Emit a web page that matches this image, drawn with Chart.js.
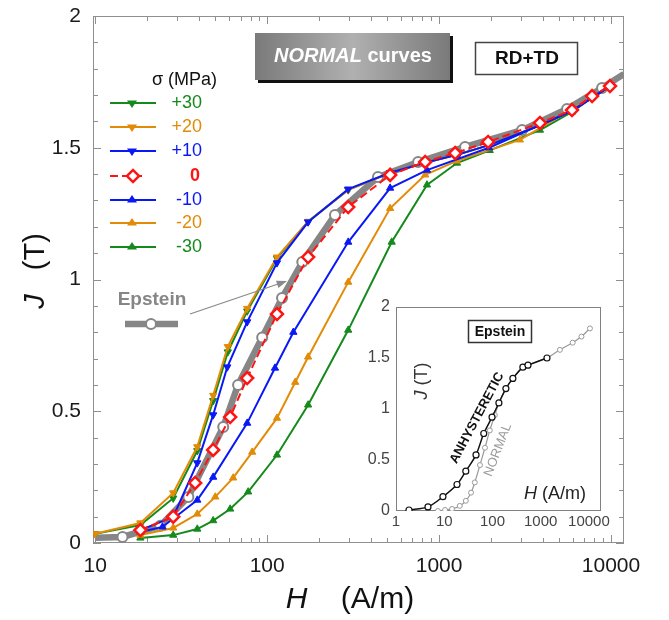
<!DOCTYPE html>
<html><head><meta charset="utf-8">
<script src="https://cdn.jsdelivr.net/npm/chart.js@4"></script>
<style>
html,body{margin:0;padding:0;background:#fff;}
#wrap{position:relative;width:669px;height:620px;overflow:hidden;}
#main{position:absolute;left:0;top:0;}
#inset{position:absolute;left:355px;top:295px;}
</style></head><body>
<div id="wrap"><canvas id="main" width="669" height="620"></canvas><canvas id="inset" width="300" height="240"></canvas></div>
<script>
// ---------- tick labels ----------
const X_TICKS = [10, 100, 1000, 10000];
const Y_TICKS = [0, 0.5, 1, 1.5, 2];
const INSET_X_TICKS = [1, 10, 100, 1000, 10000];
const INSET_Y_TICKS = [0, 0.5, 1, 1.5, 2];
const SIGMA_LABELS = ['+30', '+20', '+10', '0', '-10', '-20', '-30'];

// ---------- main chart series (H in A/m, J in T) ----------
const H_EP = [10, 14.4, 23.9, 34.8, 55.5, 67.7, 93.5, 122, 160, 248, 441, 755, 1416, 3040, 5550, 8870, 11900];
const J_EP = [0.02, 0.023, 0.065, 0.175, 0.44, 0.60, 0.78, 0.93, 1.066, 1.245, 1.389, 1.446, 1.503, 1.567, 1.647, 1.727, 1.78];

const H_P30 = [10, 18.3, 28.4, 39.2, 48.5, 59, 76.5, 114, 173, 296, 519, 850, 1300, 1950, 3860, 5930, 7760, 9860];
const J_P30 = [0.035, 0.068, 0.17, 0.35, 0.54, 0.725, 0.88, 1.08, 1.22, 1.34, 1.405, 1.445, 1.475, 1.51, 1.585, 1.64, 1.69, 1.735];

const H_P20 = [10, 18.3, 28.4, 39.2, 48.5, 59, 76.5, 114, 173, 296, 519, 850, 1300, 1950, 3860, 5930, 7760, 9860];
const J_P20 = [0.035, 0.076, 0.19, 0.365, 0.56, 0.745, 0.89, 1.085, 1.22, 1.34, 1.405, 1.445, 1.475, 1.51, 1.585, 1.64, 1.69, 1.735];

const H_P10 = [18.3, 28.4, 39.2, 48.5, 58.6, 76.5, 114, 173, 296, 519, 850, 1300, 1950, 3860, 5930, 7760, 9860];
const J_P10 = [0.049, 0.099, 0.304, 0.486, 0.668, 0.839, 1.063, 1.218, 1.343, 1.405, 1.445, 1.475, 1.51, 1.585, 1.64, 1.69, 1.735];

const H_0 = [18.3, 28.4, 38.1, 48.5, 60.9, 76.5, 114, 173, 296, 519, 830, 1240, 1928, 3860, 5930, 7760, 9860];
const J_0 = [0.049, 0.10, 0.228, 0.353, 0.478, 0.626, 0.869, 1.085, 1.275, 1.397, 1.446, 1.48, 1.522, 1.594, 1.643, 1.696, 1.734];

const H_M10 = [18.3, 24.6, 39.2, 48.5, 76.5, 111, 142, 296, 519, 850, 1950, 3860, 5930, 9860];
const J_M10 = [0.042, 0.061, 0.163, 0.25, 0.455, 0.664, 0.80, 1.142, 1.347, 1.415, 1.50, 1.586, 1.64, 1.733];

const H_M20 = [18.3, 28.4, 39.2, 49.9, 63.4, 81.8, 114, 145.6, 173, 296, 519, 830, 1270, 2950, 9860];
const J_M20 = [0.03, 0.057, 0.11, 0.175, 0.247, 0.345, 0.474, 0.61, 0.706, 0.99, 1.27, 1.397, 1.45, 1.53, 1.73];

const H_M30 = [18.3, 28.4, 39.2, 48.5, 60.9, 77.5, 114, 173, 296, 530, 850, 1270, 1970, 3860, 5930, 7760, 9860];
const J_M30 = [0.019, 0.03, 0.053, 0.085, 0.129, 0.194, 0.334, 0.524, 0.808, 1.142, 1.359, 1.442, 1.49, 1.567, 1.636, 1.69, 1.738];

// ---------- inset series ----------
const H_AN = [1.86, 4.6, 9.4, 18.4, 28, 45.6, 66, 98, 136, 190, 265, 427, 545, 1350];
const J_AN = [0.01, 0.04, 0.14, 0.26, 0.39, 0.55, 0.76, 0.92, 1.06, 1.20, 1.30, 1.41, 1.43, 1.50];
const H_NI = [7.4, 10.4, 14.5, 21, 28, 36, 43, 55, 70, 88, 112, 136, 190, 265, 427, 545, 1350, 2500, 4600, 7000, 10500];
const J_NI = [0, 0.01, 0.02, 0.05, 0.1, 0.18, 0.28, 0.45, 0.62, 0.79, 0.94, 1.06, 1.2, 1.30, 1.41, 1.43, 1.50, 1.58, 1.65, 1.71, 1.79];

const GREEN = '#158a1c', ORANGE = '#e38b06', BLUE = '#0a18f5', RED = '#ff1414', GREY = '#868686';
const FONT = "'Liberation Sans', Arial, Helvetica, sans-serif";

function pts(H, J) { return H.map((h, i) => ({ x: h, y: J[i] })); }

function triDs(H, J, color, down, order) {
  return {
    data: pts(H, J), borderColor: color, backgroundColor: color, borderWidth: 2,
    pointStyle: 'triangle', rotation: down ? 180 : 0, pointRadius: 4.2,
    pointBorderWidth: 1, pointBackgroundColor: color, pointBorderColor: color,
    tension: 0, order: order
  };
}

const datasets = [
  {
    data: pts(H_EP, J_EP), borderColor: GREY, borderWidth: 6.5, tension: 0,
    pointStyle: 'circle', pointRadius: H_EP.map((h, i) => (i === 0 || i === H_EP.length - 1) ? 0 : 5),
    pointBackgroundColor: '#ffffff', pointBorderColor: GREY, pointBorderWidth: 2, order: 10
  },
  triDs(H_M30, J_M30, GREEN, false, 7),
  triDs(H_M20, J_M20, ORANGE, false, 6),
  triDs(H_P30, J_P30, GREEN, true, 5),
  triDs(H_P20, J_P20, ORANGE, true, 4),
  triDs(H_M10, J_M10, BLUE, false, 3),
  triDs(H_P10, J_P10, BLUE, true, 2),
  {
    data: pts(H_0, J_0), borderColor: RED, borderWidth: 2, borderDash: [8, 4], tension: 0,
    pointStyle: 'rectRot', pointRadius: 6, pointBackgroundColor: '#ffffff',
    pointBorderColor: RED, pointBorderWidth: 2.5, order: 0
  }
];

function line(ctx, x1, y1, x2, y2) { ctx.beginPath(); ctx.moveTo(x1, y1); ctx.lineTo(x2, y2); ctx.stroke(); }

function drawTri(ctx, x, y, r, down, color) {
  ctx.save(); ctx.fillStyle = color; ctx.beginPath();
  const h = r * 1.5;
  if (down) { ctx.moveTo(x - r, y - h / 3); ctx.lineTo(x + r, y - h / 3); ctx.lineTo(x, y + 2 * h / 3); }
  else { ctx.moveTo(x - r, y + h / 3); ctx.lineTo(x + r, y + h / 3); ctx.lineTo(x, y - 2 * h / 3); }
  ctx.closePath(); ctx.fill(); ctx.restore();
}

function mixedText(ctx, parts, x, y, align) {
  let total = 0;
  parts.forEach(p => { ctx.font = p.f; p.w = ctx.measureText(p.t).width; total += p.w; });
  let cx = align === 'center' ? x - total / 2 : (align === 'right' ? x - total : x);
  ctx.textAlign = 'left';
  parts.forEach(p => { ctx.font = p.f; ctx.fillText(p.t, cx, y); cx += p.w; });
}

const mainDecor = {
  id: 'mainDecor',
  beforeDatasetsDraw(chart) {
    const { ctx, chartArea: a, scales: { x, y } } = chart;
    ctx.save();
    ctx.strokeStyle = '#8f8f8f'; ctx.lineWidth = 1;
    for (let v = 0; v <= 20; v++) {
      const py = Math.round(y.getPixelForValue(v / 10)) + 0.5;
      const len = v % 5 === 0 ? 8 : 5;
      line(ctx, a.left, py, a.left + len, py);
      line(ctx, a.right, py, a.right - len, py);
    }
    for (let d = 1; d <= 4; d++) {
      for (let k = 1; k < 10; k++) {
        const val = k * Math.pow(10, d);
        if (val < x.min || val > x.max) continue;
        const px = Math.round(x.getPixelForValue(val)) + 0.5;
        const len = k === 1 ? 8 : 5;
        line(ctx, px, a.bottom, px, a.bottom - len);
        line(ctx, px, a.top, px, a.top + len);
      }
    }
    ctx.strokeRect(a.left + 0.5, a.top + 0.5, a.right - a.left - 1, a.bottom - a.top - 1);
    ctx.restore();
  },
  afterDraw(chart) {
    const { ctx } = chart;
    ctx.save();
    ctx.textBaseline = 'middle';
    ctx.fillStyle = '#111';
    mixedText(ctx, [{ t: 'H', f: 'italic 30px ' + FONT }, { t: '    (A/m)', f: '30px ' + FONT }], 350, 600, 'center');
    ctx.save(); ctx.translate(36, 271); ctx.rotate(-Math.PI / 2);
    mixedText(ctx, [{ t: 'J', f: 'italic 29px ' + FONT }, { t: '   (T)', f: '29px ' + FONT }], 0, 0, 'center');
    ctx.restore();

    // NORMAL curves box
    ctx.fillStyle = '#111';
    ctx.fillRect(258, 36, 195, 47);
    const g = ctx.createLinearGradient(255, 0, 450, 0);
    g.addColorStop(0, '#7a7a7a'); g.addColorStop(0.5, '#b0b0b0'); g.addColorStop(1, '#7a7a7a');
    ctx.fillStyle = g; ctx.fillRect(255, 33, 195, 47);
    ctx.fillStyle = '#ffffff';
    mixedText(ctx, [{ t: 'NORMAL', f: 'italic bold 20px ' + FONT }, { t: ' curves', f: 'bold 20px ' + FONT }], 353, 56, 'center');

    // RD+TD box
    ctx.fillStyle = '#fff'; ctx.fillRect(475, 42, 103, 33);
    ctx.strokeStyle = '#444'; ctx.lineWidth = 1.5; ctx.strokeRect(475.5, 42.5, 102, 32);
    ctx.fillStyle = '#111'; ctx.font = 'bold 19px ' + FONT; ctx.textAlign = 'center';
    ctx.fillText('RD+TD', 527, 59);

    // legend
    ctx.fillStyle = '#111'; ctx.font = '18px ' + FONT; ctx.textAlign = 'left';
    ctx.fillText('\u03c3 (MPa)', 152, 80);
    const ly = [103, 127, 151, 176, 200, 223, 247];
    const lc = [GREEN, ORANGE, BLUE, RED, BLUE, ORANGE, GREEN];
    const ld = [true, true, true, null, false, false, false];
    SIGMA_LABELS.forEach((lab, i) => {
      const yy = ly[i];
      ctx.strokeStyle = lc[i]; ctx.lineWidth = 2;
      if (ld[i] === null) {
        ctx.setLineDash([8, 4]); line(ctx, 110, yy, 146, yy); ctx.setLineDash([]);
        ctx.save(); ctx.translate(133, yy); ctx.rotate(Math.PI / 4);
        ctx.fillStyle = '#fff'; ctx.lineWidth = 2.5; ctx.fillRect(-4.3, -4.3, 8.6, 8.6); ctx.strokeRect(-4.3, -4.3, 8.6, 8.6);
        ctx.restore();
        ctx.fillStyle = lc[i]; ctx.font = 'bold 18px ' + FONT; ctx.textAlign = 'right';
        ctx.fillText(lab, 200, yy);
      } else {
        line(ctx, 110, yy, 156, yy);
        drawTri(ctx, 132, yy, 5, ld[i], lc[i]);
        ctx.fillStyle = lc[i]; ctx.font = '18px ' + FONT; ctx.textAlign = 'right';
        ctx.fillText(lab, 202, yy);
      }
    });

    // Epstein label
    ctx.fillStyle = GREY; ctx.font = 'bold 19px ' + FONT; ctx.textAlign = 'center';
    ctx.fillText('Epstein', 152, 300);
    ctx.strokeStyle = GREY; ctx.lineWidth = 6.5; line(ctx, 125, 324, 178, 324);
    ctx.beginPath(); ctx.arc(151, 324, 5, 0, Math.PI * 2); ctx.fillStyle = '#fff'; ctx.fill();
    ctx.lineWidth = 2; ctx.stroke();
    ctx.strokeStyle = '#8a8a8a'; ctx.lineWidth = 1.3;
    line(ctx, 190, 314, 284, 282);
    const ang = Math.atan2(282 - 314, 284 - 190);
    ctx.fillStyle = '#8a8a8a'; ctx.beginPath();
    ctx.moveTo(287, 281);
    ctx.lineTo(287 - 11 * Math.cos(ang - 0.35), 281 - 11 * Math.sin(ang - 0.35));
    ctx.lineTo(287 - 11 * Math.cos(ang + 0.35), 281 - 11 * Math.sin(ang + 0.35));
    ctx.closePath(); ctx.fill();
    ctx.restore();
  }
};

new Chart(document.getElementById('main'), {
  type: 'line',
  data: { datasets },
  options: {
    responsive: false, animation: false, devicePixelRatio: 1,
    layout: { padding: { left: 0, top: 16, right: 45, bottom: 0 } },
    plugins: { legend: { display: false }, tooltip: { enabled: false } },
    scales: {
      x: {
        type: 'logarithmic', min: 9.7, max: 11900,
        afterBuildTicks: s => { s.ticks = X_TICKS.map(v => ({ value: v })); },
        afterFit: s => { s.height = 77; s.paddingLeft = 0; s.paddingRight = 0; },
        grid: { display: false, drawTicks: false }, border: { display: false },
        ticks: { padding: 11, autoSkip: false, maxRotation: 0, color: '#1a1a1a', font: { family: FONT, size: 21 }, callback: v => String(v) }
      },
      y: {
        type: 'linear', min: 0, max: 2,
        afterBuildTicks: s => { s.ticks = Y_TICKS.map(v => ({ value: v })); },
        afterFit: s => { s.width = 93; s.paddingTop = 0; s.paddingBottom = 0; },
        grid: { display: false, drawTicks: false }, border: { display: false },
        ticks: { padding: 12, color: '#1a1a1a', font: { family: FONT, size: 21 }, callback: v => String(v) }
      }
    }
  },
  plugins: [mainDecor]
});

// ---------- inset ----------
const insetDecor = {
  id: 'insetDecor',
  beforeDatasetsDraw(chart) {
    const { ctx, chartArea: a } = chart;
    ctx.save(); ctx.strokeStyle = '#808080'; ctx.lineWidth = 1;
    ctx.strokeRect(a.left + 0.5, a.top + 0.5, a.right - a.left - 1, a.bottom - a.top - 1);
    ctx.restore();
  },
  afterDraw(chart) {
    const { ctx } = chart;
    ctx.save(); ctx.textBaseline = 'middle';
    ctx.fillStyle = '#fff'; ctx.fillRect(113, 25, 64, 23);
    ctx.strokeStyle = '#333'; ctx.lineWidth = 1.5; ctx.strokeRect(113.5, 25.5, 63, 22);
    ctx.fillStyle = '#111'; ctx.font = 'bold 14px ' + FONT; ctx.textAlign = 'center';
    ctx.fillText('Epstein', 145, 37);
    ctx.fillStyle = '#333';
    ctx.save(); ctx.translate(67, 86); ctx.rotate(-Math.PI / 2);
    mixedText(ctx, [{ t: 'J', f: 'italic 18px ' + FONT }, { t: ' (T)', f: '18px ' + FONT }], 0, 0, 'center');
    ctx.restore();
    ctx.save(); ctx.translate(122, 123); ctx.rotate(-62 * Math.PI / 180);
    ctx.fillStyle = '#111'; ctx.font = 'bold 13px ' + FONT; ctx.textAlign = 'center';
    ctx.fillText('ANHYSTERETIC', 0, 0); ctx.restore();
    ctx.save(); ctx.translate(143, 155); ctx.rotate(-69 * Math.PI / 180);
    ctx.fillStyle = '#9a9a9a'; ctx.font = '13px ' + FONT; ctx.textAlign = 'center';
    ctx.fillText('NORMAL', 0, 0); ctx.restore();
    ctx.fillStyle = '#222';
    mixedText(ctx, [{ t: 'H', f: 'italic 18px ' + FONT }, { t: ' (A/m)', f: '18px ' + FONT }], 200, 199, 'center');
    ctx.restore();
  }
};

new Chart(document.getElementById('inset'), {
  type: 'line',
  data: {
    datasets: [
      {
        data: pts(H_AN, J_AN), borderColor: '#111', borderWidth: 1.5, tension: 0.3,
        pointStyle: 'circle', pointRadius: 3, pointBackgroundColor: '#fff', pointBorderColor: '#111', pointBorderWidth: 1.2, order: 0
      },
      {
        data: pts(H_NI, J_NI), borderColor: '#999', borderWidth: 1.2, tension: 0.3,
        pointStyle: 'circle', pointRadius: 2.5, pointBackgroundColor: '#fff', pointBorderColor: '#999', pointBorderWidth: 1, order: 1
      }
    ]
  },
  options: {
    responsive: false, animation: false, devicePixelRatio: 1,
    layout: { padding: { left: 0, top: 12, right: 54, bottom: 0 } },
    plugins: { legend: { display: false }, tooltip: { enabled: false } },
    scales: {
      x: {
        type: 'logarithmic', min: 1, max: 17800,
        afterBuildTicks: s => { s.ticks = INSET_X_TICKS.map(v => ({ value: v })); },
        afterFit: s => { s.height = 24; s.paddingLeft = 0; s.paddingRight = 0; },
        grid: { display: false, drawTicks: false }, border: { display: false },
        ticks: { padding: 2, autoSkip: false, maxRotation: 0, color: '#444', font: { family: FONT, size: 15 }, callback: v => String(v) }
      },
      y: {
        type: 'linear', min: 0, max: 2,
        afterBuildTicks: s => { s.ticks = INSET_Y_TICKS.map(v => ({ value: v })); },
        afterFit: s => { s.width = 41; s.paddingTop = 0; s.paddingBottom = 0; },
        grid: { display: false, drawTicks: false }, border: { display: false },
        ticks: { padding: 6, color: '#444', font: { family: FONT, size: 16 }, callback: v => String(v) }
      }
    }
  },
  plugins: [insetDecor]
});
</script>
</body></html>
